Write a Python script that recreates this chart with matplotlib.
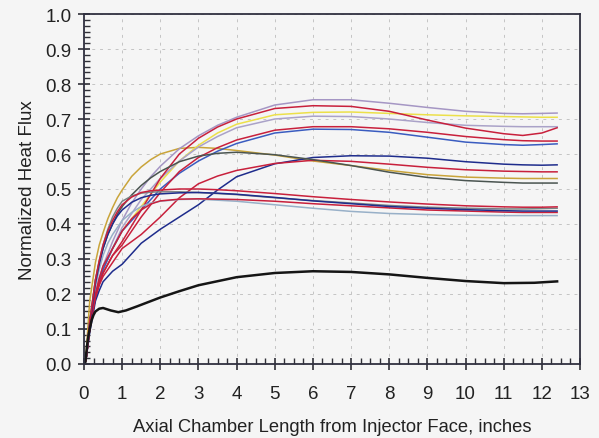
import matplotlib.pyplot as plt
from matplotlib.ticker import MultipleLocator

x = [0.05, 0.15, 0.3, 0.4, 0.5, 0.625, 0.75, 0.875, 1.0, 1.25, 1.5, 1.75, 2.0,
     2.5, 3.0, 3.5, 4, 5, 6, 7, 8, 9, 10, 11, 11.5, 12, 12.4]

gold = [.02, .18, .29, .34, .375, .415, .447, .475, .497, .536, .563, .584, .600,
        .616, .619, .616, .61, .597, .58, .567, .553, .541, .534, .531, .530, .530, .530]
lavender = [.01, .10, .20, .245, .28, .315, .35, .38, .41, .46, .50, .535, .565,
            .615, .652, .682, .705, .74, .755, .755, .745, .733, .722, .716, .715, .716, .717]
red1 = [.01, .10, .19, .23, .26, .285, .31, .33, .35, .395, .44, .485, .53,
        .60, .645, .677, .70, .73, .738, .736, .722, .697, .674, .658, .653, .66, .675]
yellow = [.01, .10, .19, .235, .27, .30, .33, .355, .38, .415, .45, .485, .52,
          .58, .625, .66, .685, .712, .719, .72, .716, .712, .709, .707, .706, .705, .705]
lavender2 = [.01, .10, .19, .235, .27, .30, .33, .36, .39, .43, .47, .50, .53,
             .58, .62, .65, .675, .70, .708, .707, .70, .69, .682, .679, .678, .678, .678]
red2 = [.01, .10, .19, .23, .26, .285, .31, .325, .34, .38, .42, .455, .49,
        .55, .59, .618, .64, .668, .678, .678, .672, .662, .65, .641, .638, .637, .637]
blue1 = [.01, .10, .19, .235, .27, .30, .33, .355, .38, .41, .44, .47, .50,
         .545, .58, .608, .63, .66, .671, .67, .662, .648, .634, .627, .625, .627, .629]
blue2 = [.01, .09, .18, .21, .235, .25, .265, .275, .285, .315, .345, .365, .385,
         .42, .455, .497, .535, .572, .59, .595, .594, .588, .578, .571, .569, .568, .569]
red3 = [.01, .10, .19, .225, .25, .27, .29, .31, .33, .35, .37, .395, .42,
        .475, .515, .537, .553, .573, .582, .579, .571, .562, .555, .551, .55, .549, .549]
darkgray = [.01, .12, .24, .29, .33, .37, .40, .428, .45, .483, .51, .532, .55,
            .578, .594, .602, .605, .598, .584, .567, .548, .533, .524, .519, .517, .517, .517]
red4 = [.01, .12, .24, .295, .34, .38, .41, .435, .455, .477, .49, .495, .497,
        .5, .5, .498, .495, .487, .478, .47, .463, .457, .452, .449, .448, .448, .449]
gray = [.01, .12, .24, .295, .34, .385, .42, .445, .465, .48, .488, .491, .492,
        .492, .49, .487, .484, .475, .467, .46, .453, .448, .445, .443, .443, .444, .445]
blue3 = [.01, .11, .23, .285, .33, .37, .40, .423, .44, .462, .475, .482, .486,
         .489, .49, .488, .485, .476, .466, .458, .45, .445, .441, .438, .437, .437, .437]
red5 = [.01, .10, .20, .245, .28, .305, .33, .355, .38, .415, .44, .457, .466,
        .471, .472, .471, .47, .465, .458, .452, .446, .44, .437, .434, .433, .433, .433]
lightblue = [.01, .11, .22, .27, .31, .345, .37, .39, .41, .433, .45, .46, .465,
             .47, .471, .468, .465, .455, .445, .436, .43, .427, .425, .424, .424, .424, .424]

# the low black curve has its own read points
x_black = [0.03, 0.07, 0.1, 0.15, 0.2, 0.25, 0.3, 0.4, 0.5, 0.7, 0.9, 1.1, 1.4,
           2, 2.5, 3, 4, 5, 6, 7, 8, 9, 10, 11, 11.8, 12.4]
black = [0.0, 0.04, 0.07, 0.10, 0.125, 0.14, 0.15, 0.158, 0.16, 0.153, 0.148, 0.153, 0.165,
         0.19, 0.208, 0.225, 0.248, 0.26, 0.265, 0.263, 0.256, 0.246, 0.237, 0.231, 0.232, 0.236]

curves = [
    (gold, '#c9a43a'), (lavender, '#a596c4'), (yellow, '#ece04a'),
    (lavender2, '#aaa2c8'), (blue1, '#3a5cc0'), (red2, '#c8203c'),
    (red1, '#c8203c'), (blue2, '#1e2c8c'), (red3, '#c8203c'),
    (darkgray, '#4a5450'), (gray, '#7a8484'), (lightblue, '#98b0c8'),
    (red5, '#c8203c'), (blue3, '#1e2c8c'), (red4, '#c8203c'),
]

plt.rcParams['font.family'] = ['Liberation Sans', 'DejaVu Sans']

fig = plt.figure(figsize=(5.99, 4.39), dpi=100, facecolor='#f5f5f5')
ax = fig.add_axes([0.1402, 0.1686, 0.8281, 0.7972], facecolor='#f5f5f5')

for ys, c in curves:
    ax.plot(x, ys, color=c, lw=1.1)
ax.plot(x_black, black, color='#151515', lw=1.8)

ax.set_xlim(0, 13)
ax.set_ylim(0, 1.0)
ax.xaxis.set_major_locator(MultipleLocator(1))
ax.xaxis.set_minor_locator(MultipleLocator(0.25))
ax.yaxis.set_major_locator(MultipleLocator(0.1))
ax.yaxis.set_minor_locator(MultipleLocator(0.1 / 6))
ax.yaxis.set_major_formatter(plt.FormatStrFormatter('%.1f'))

ax.grid(True, which='major', color='#c4c4c4', lw=0.7, linestyle=(0, (3, 5)))
ax.set_axisbelow(True)

ax.tick_params(which='major', direction='inout', length=8, width=1.2,
               color='#303038', labelsize=13.5, labelcolor='#222222')
ax.tick_params(axis='x', which='major', pad=11)
ax.tick_params(axis='y', which='major', pad=5)
ax.tick_params(which='minor', direction='in', length=4, width=1.0, color='#303038')

for s in ax.spines.values():
    s.set_color('#303040')
    s.set_linewidth(1.3)

ax.set_xlabel('Axial Chamber Length from Injector Face, inches', fontsize=13.2,
              color='#222222', labelpad=12)
ax.set_ylabel('Normalized Heat Flux', fontsize=13.5, color='#222222', labelpad=7)

fig.savefig('out.png', dpi=100, facecolor=fig.get_facecolor())
